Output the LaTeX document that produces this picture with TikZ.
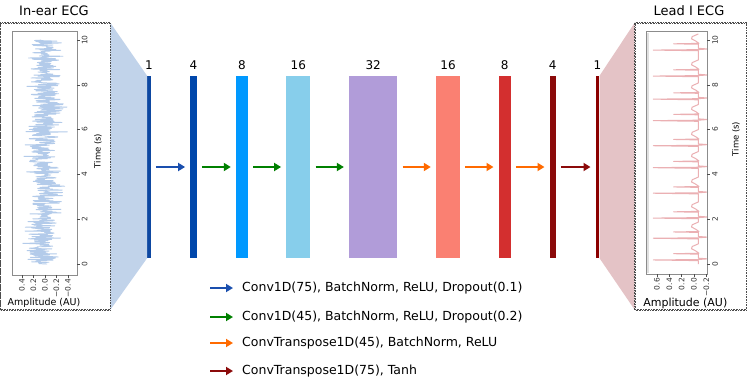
\documentclass[tikz,border=0pt]{standalone}
\usepackage{fontspec}
\setmainfont{DejaVu Sans}
\usetikzlibrary{arrows.meta,calc}
\definecolor{trapblue}{HTML}{C1D3EA}
\definecolor{trappink}{HTML}{E4C3C6}
\definecolor{cA}{HTML}{0D47A1}
\definecolor{cB}{HTML}{0047AB}
\definecolor{cC}{HTML}{0099FF}
\definecolor{cD}{HTML}{87CEEB}
\definecolor{cE}{HTML}{B19CD9}
\definecolor{cF}{HTML}{FA8072}
\definecolor{cG}{HTML}{D32F2F}
\definecolor{cH}{HTML}{8B0A0A}
\definecolor{cI}{HTML}{8B0000}
\definecolor{arBlue}{HTML}{1A4FAE}
\definecolor{arGreen}{HTML}{008000}
\definecolor{arOrange}{HTML}{FF6A00}
\definecolor{arRed}{HTML}{8B0A0A}
\definecolor{noisec}{HTML}{B3CBEA}
\definecolor{ecgc}{HTML}{EBB0B3}
\definecolor{axc}{HTML}{8C8C8C}
\tikzset{
  layer/.style={draw=none, minimum height=182pt, inner sep=0pt},
  lab/.style={font=\fontsize{12}{14}\selectfont, anchor=base, inner sep=0pt},
  conn/.style={line width=1.8pt, -{Triangle[length=7pt,width=8pt]}, shorten <=5pt, shorten >=5pt},
  legarr/.style={line width=1.8pt, -{Triangle[length=7pt,width=8pt]}, shorten >=9pt},
  legtxt/.style={font=\fontsize{12.5}{15}\selectfont, anchor=west, inner sep=0pt},
  panel/.style={draw=black!70, densely dotted, line width=0.6pt, fill=white, inner sep=0pt},
  title/.style={font=\fontsize{13}{15}\selectfont, inner sep=0pt},
  axframe/.style={draw=axc, line width=0.7pt},
  tickm/.style={draw=black!70, line width=0.5pt},
  ticklab/.style={font=\fontsize{7.5}{9}\selectfont, inner sep=0pt, text=black!80},
  axlab/.style={font=\fontsize{8.5}{10}\selectfont, inner sep=0pt},
}
\begin{document}
\begin{tikzpicture}[x=1pt,y=-1pt]
\useasboundingbox (0,0) rectangle (747,380);

% layers
\node[layer, fill=cA, minimum width=3.4pt]  (L1) at (149,167) {};
\node[layer, fill=cB, minimum width=6.4pt]  (L2) at (193.5,167) {};
\node[layer, fill=cC, minimum width=12pt]   (L3) at (242,167) {};
\node[layer, fill=cD, minimum width=24pt]   (L4) at (298.3,167) {};
\node[layer, fill=cE, minimum width=48.3pt] (L5) at (373.2,167) {};
\node[layer, fill=cF, minimum width=24pt]   (L6) at (448,167) {};
\node[layer, fill=cG, minimum width=12pt]   (L7) at (504.7,167) {};
\node[layer, fill=cH, minimum width=6pt]    (L8) at (552.7,167) {};
\node[layer, fill=cI, minimum width=3.6pt]  (L9) at (597.5,167) {};

% panels
\node[panel, minimum width=109.5pt, minimum height=286.5pt] (lbox) at (55.25,166.25) {};
\node[panel, minimum width=111.5pt, minimum height=286.5pt] (rbox) at (690.75,166.25) {};

% trapezoids
\fill[trapblue] (lbox.north east) -- (L1.north west) -- (L1.south west) -- (lbox.south east) -- cycle;
\fill[trappink] (rbox.north west) -- (L9.north east) -- (L9.south east) -- (rbox.south west) -- cycle;
\draw[panel, fill=none] (lbox.north west) rectangle (lbox.south east);
\draw[panel, fill=none] (rbox.north west) rectangle (rbox.south east);

% layer labels
\foreach \n/\t in {L1/1,L2/4,L3/8,L4/16,L5/32,L6/16,L7/8,L8/4,L9/1}
  \node[lab] (lab\n) at ($(\n.north)+(0,-6.5)$) {\t};

% connectors
\draw[conn, arBlue] (L1) -- (L2);
\draw[conn, arGreen] (L2) -- (L3);
\draw[conn, arGreen] (L3) -- (L4);
\draw[conn, arGreen] (L4) -- (L5);
\draw[conn, arOrange] (L5) -- (L6);
\draw[conn, arOrange] (L6) -- (L7);
\draw[conn, arOrange] (L7) -- (L8);
\draw[conn, arRed] (L8) -- (L9);

% titles
\node[title] (t1) at (54,11) {In-ear ECG};
\node[title] (t2) at (689,11) {Lead I ECG};

% ---------- left plot ----------
\pgfmathsetseed{7}
\draw[noisec, line width=0.9pt, line join=round]
  plot[domain=0:10, samples=640, variable=\t]
  ({45-57.5*(0.14*(rand+rand+rand)+0.04*sin(\t*97))}, {264-22.4*\t});
\draw[axframe] (12,31.7) rectangle (77,275);
\foreach \k in {0,2,4,6,8,10} {
  \draw[tickm] (77,{264-22.4*\k}) -- ++(2.8,0);
  \node[ticklab, rotate=90, anchor=north] at (81.5,{264-22.4*\k}) {\k};
}
\foreach \a/\l in {0.4/0.4,0.2/0.2,0/0.0,-0.2/−0.2,-0.4/−0.4} {
  \draw[tickm] ({45-57.5*\a},275) -- ++(0,2.5);
  \node[ticklab, rotate=90, anchor=east] at ({45-57.5*\a},279) {\l};
}
\node[axlab, rotate=90] (ty1) at (98,151) {Time (s)};
\node[font=\fontsize{9.5}{11}\selectfont, inner sep=0pt] (ax1) at (44,302.5) {Amplitude (AU)};

% ---------- right plot ----------
\newcommand\ecgp[2]{({694-61.7*(#2)},{264-22.4*(#1)})}
\draw[ecgc, line width=1pt, line join=round]
  \ecgp{0}{-0.07}
  \foreach \tb in {0.18,1.15,2.05,3.16,4.3,5.28,6.4,7.36,8.39,9.55} {
    -- \ecgp{\tb-0.03}{-0.07} -- \ecgp{\tb}{0.66} -- \ecgp{\tb+0.02}{-0.07}
    -- \ecgp{\tb+0.05}{-0.22} -- \ecgp{\tb+0.08}{-0.07}
    -- \ecgp{\tb+0.26}{-0.07} -- \ecgp{\tb+0.28}{0.33} -- \ecgp{\tb+0.30}{-0.08}
    -- \ecgp{\tb+0.40}{-0.03} -- \ecgp{\tb+0.50}{0.04} -- \ecgp{\tb+0.60}{0.03}
    -- \ecgp{\tb+0.72}{-0.07}
  };
\draw[axframe] (646.7,31.7) rectangle (707.3,274);
\draw[black!12, line width=1.5pt] (647.8,32.5) -- (647.8,273.2);
\foreach \k in {0,2,4,6,8,10} {
  \draw[tickm] (707.3,{264-22.4*\k}) -- ++(2.8,0);
  \node[ticklab, rotate=90, anchor=north] at (712,{264-22.4*\k}) {\k};
}
\foreach \a/\l in {0.6/0.6,0.4/0.4,0.2/0.2,0/0.0,-0.2/−0.2} {
  \draw[tickm] ({694-61.7*\a},274) -- ++(0,2.5);
  \node[ticklab, rotate=90, anchor=east] at ({694-61.7*\a},278) {\l};
}
\node[axlab, rotate=90] (ty2) at (736,139) {Time (s)};
\node[font=\fontsize{11}{13}\selectfont, inner sep=0pt] (ax2) at (685.3,303) {Amplitude (AU)};

% ---------- legend ----------
\coordinate (ls1) at (210,288);
\coordinate (ls2) at (210,317);
\coordinate (ls3) at (210,343);
\coordinate (ls4) at (210,371);
\node[legtxt] (lt1) at (242,288) {Conv1D(75), BatchNorm, ReLU, Dropout(0.1)};
\node[legtxt] (lt2) at (242,317) {Conv1D(45), BatchNorm, ReLU, Dropout(0.2)};
\node[legtxt] (lt3) at (242,343) {ConvTranspose1D(45), BatchNorm, ReLU};
\node[legtxt] (lt4) at (242,371) {ConvTranspose1D(75), Tanh};
\draw[legarr, arBlue] (ls1) -- (lt1.west);
\draw[legarr, arGreen] (ls2) -- (lt2.west);
\draw[legarr, arOrange] (ls3) -- (lt3.west);
\draw[legarr, arRed] (ls4) -- (lt4.west);
\end{tikzpicture}
\end{document}
